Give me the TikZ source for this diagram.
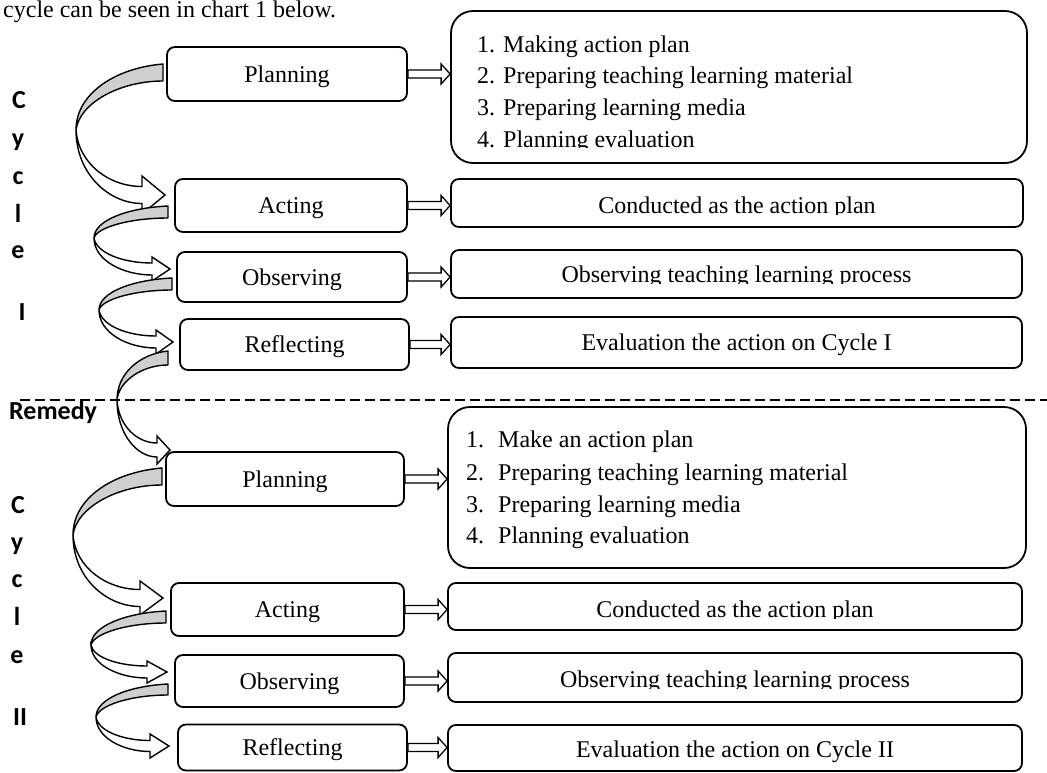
\documentclass[tikz,border=0pt]{standalone}
\usepackage{fontspec}
\setmainfont{Liberation Serif}
\newfontfamily\calfont{Carlito}
\usetikzlibrary{calc}
\tikzset{
  lbox/.style={draw, line width=1.8pt, rounded corners=8pt, inner sep=0pt,
    text height=16pt, text depth=0pt, font=\fontsize{24}{28}\selectfont},
  rbox/.style={draw, line width=1.8pt, rounded corners=8pt, inner sep=0pt},
  listbox/.style={rbox, rounded corners=22pt},
  txt/.style={font=\fontsize{24}{28}\selectfont, anchor=base, inner sep=0pt},
  lst/.style={txt, anchor=base west},
  cyc/.style={font=\calfont\bfseries\fontsize{26}{30}\selectfont, anchor=base, inner sep=0pt},
  back/.style={fill=black!19, draw, line width=1.4pt, line join=round},
  front/.style={fill=white, draw, line width=1.4pt, line join=miter},
  hollow/.style={fill=white, draw, line width=1.3pt, line join=miter},
  sep/.style={line width=1.5pt, dash pattern=on 10pt off 5pt}
}
% curved block arrow: xt yt1 yt2 xl yl xb xp yp h
\newcommand\curvarr[9]{%
  \pgfmathsetmacro\ca{#1-#4}%
  \pgfmathsetmacro\cb{#5-#2}%
  \pgfmathsetmacro\cbb{#5-#3}%
  \pgfmathsetmacro\cs{(#3-#2)/2}%
  \pgfmathsetmacro\cyl{#8+\cs}%
  \pgfmathsetmacro\cyu{#8-\cs}%
  \pgfmathsetmacro\cat{#6-#4}%
  \path[back] (#1,#2) .. controls (#1-0.55*\ca,#2+0.06*\cb) and (#4,#5-0.55*\cb) .. (#4,#5)
    .. controls (#4+0.04*\ca,#5-0.55*\cbb) and (#1-0.5*\ca,#3) .. (#1,#3) -- cycle;
  \path[front] (#4,#5) .. controls (#4,#5+0.6*\cyl-0.6*#5) and (#6-0.5*\cat,\cyl) .. (#6,\cyl)
    -- (#6,#8+#9) -- (#7,#8) -- (#6,#8-#9) -- (#6,\cyu)
    .. controls (#6-0.5*\cat,\cyu) and (#4+0.04*\cat,#5+0.6*\cyu-0.6*#5) .. (#4,#5) -- cycle;
}
\newcommand\hollowarr[2]{%
  \draw[hollow] let \p1=(#1.east), \p2=(#2.west) in
    (\x1,\y1+4pt) -- (\x2-9pt,\y1+4pt) -- (\x2-9pt,\y1+10pt) -- (\x2,\y1)
    -- (\x2-9pt,\y1-10pt) -- (\x2-9pt,\y1-4pt) -- (\x1,\y1-4pt) -- cycle;
}
\begin{document}
\begin{tikzpicture}[x=1pt,y=-1pt]
\useasboundingbox (0,0) rectangle (1047,772);

% intro line
\node[lst] (intro) at (3,17) {cycle can be seen in chart 1 below.};

% side labels
\node[cyc] (c1a) at (19,108) {C};
\node[cyc] (c1b) at (18,146) {y};
\node[cyc] (c1c) at (18,184) {c};
\node[cyc] (c1d) at (18,222) {l};
\node[cyc] (c1e) at (18,258) {e};
\node[cyc] (c1f) at (22,320) {I};
\node[cyc, anchor=base west] (remedy) at (9,419) {Remedy};
\node[cyc] (c2a) at (18,513) {C};
\node[cyc] (c2b) at (17,550) {y};
\node[cyc] (c2c) at (17,587) {c};
\node[cyc] (c2d) at (17,625) {l};
\node[cyc] (c2e) at (17,663) {e};
\node[cyc] (c2f) at (20,725) {II};

% separator
\draw[sep] (20,400) -- (1047,400);

% left boxes
\node[lbox, minimum width=240, minimum height=54] (plan1) at (287,74) {Planning};
\node[lbox, minimum width=232, minimum height=53] (act1) at (291,205.5) {Acting};
\node[lbox, minimum width=230, minimum height=50] (obs1) at (292,277) {Observing};
\node[lbox, minimum width=229, minimum height=51] (ref1) at (294.5,344.5) {Reflecting};
\node[lbox, minimum width=238, minimum height=54] (plan2) at (285,479) {Planning};
\node[lbox, minimum width=233, minimum height=53] (act2) at (287.5,609.5) {Acting};
\node[lbox, minimum width=229, minimum height=52] (obs2) at (289.5,681) {Observing};
\node[lbox, minimum width=229, minimum height=46] (ref2) at (292.5,747.5) {Reflecting};

% right boxes
\node[listbox, minimum width=576, minimum height=152] (list1) at (739,87) {};
\node[rbox, minimum width=572, minimum height=48] (cond1) at (737,203) {};
\node[rbox, minimum width=571, minimum height=48] (proc1) at (736.5,274) {};
\node[rbox, minimum width=571, minimum height=51] (eval1) at (736.5,342.5) {};
\node[listbox, minimum width=578, minimum height=161] (list2) at (737,487.5) {};
\node[rbox, minimum width=574, minimum height=47] (cond2) at (735,606.5) {};
\node[rbox, minimum width=574, minimum height=49] (proc2) at (735,677.5) {};
\node[rbox, minimum width=574, minimum height=46] (eval2) at (735,748) {};

% list 1
\node[lst] (l1a) at (477,52) {1. Making action plan};
\node[lst] (l1b) at (477,83) {2. Preparing teaching learning material};
\node[lst] (l1c) at (477,115) {3. Preparing learning media};
\begin{scope}
  \clip (455,120) rectangle (1000,147.5);
  \node[lst] (l1d) at (477,147) {4. Planning evaluation};
\end{scope}

% list 2
\node[lst] (n2a) at (466,447) {1.};
\node[lst] (t2a) at (498,447) {Make an action plan};
\node[lst] (n2b) at (466,480) {2.};
\node[lst] (t2b) at (498,480) {Preparing teaching learning material};
\node[lst] (n2c) at (466,512) {3.};
\node[lst] (t2c) at (498,512) {Preparing learning media};
\node[lst] (n2d) at (466,543) {4.};
\node[lst] (t2d) at (498,543) {Planning evaluation};

% single-line texts (descenders cut as in the original)
\begin{scope}
  \clip (455,182) rectangle (1015,214);
  \node[txt] (cond1t) at (737,213) {Conducted as the action plan};
\end{scope}
\begin{scope}
  \clip (455,253) rectangle (1015,283.5);
  \node[txt] (proc1t) at (736.5,282.5) {Observing teaching learning process};
\end{scope}
\node[txt] (eval1t) at (736.5,350.5) {Evaluation the action on Cycle I};
\begin{scope}
  \clip (455,586) rectangle (1015,618);
  \node[txt] (cond2t) at (735,617) {Conducted as the action plan};
\end{scope}
\begin{scope}
  \clip (455,656) rectangle (1015,688);
  \node[txt] (proc2t) at (735,687) {Observing teaching learning process};
\end{scope}
\node[txt] (eval2t) at (735,757) {Evaluation the action on Cycle II};

% hollow arrows
\hollowarr{plan1}{list1}
\hollowarr{act1}{cond1}
\hollowarr{obs1}{proc1}
\hollowarr{ref1}{eval1}
\hollowarr{plan2}{list2}
\hollowarr{act2}{cond2}
\hollowarr{obs2}{proc2}
\hollowarr{ref2}{eval2}

% curved arrows
\curvarr{163}{64}{81}{76}{130}{142}{165}{195}{19}
\curvarr{168}{206}{218}{94}{238}{152}{170}{269}{12}
\curvarr{172}{278}{290}{99}{310}{156}{173}{342}{12}
\curvarr{168}{351}{365}{117}{400}{157}{170}{450}{14}
\curvarr{162}{468}{485}{73}{535}{140}{163}{598}{17}
\curvarr{166}{611}{623}{91}{645}{147}{167}{672}{11}
\curvarr{168}{684}{695}{96}{717}{150}{169}{746}{12}
\end{tikzpicture}
\end{document}
